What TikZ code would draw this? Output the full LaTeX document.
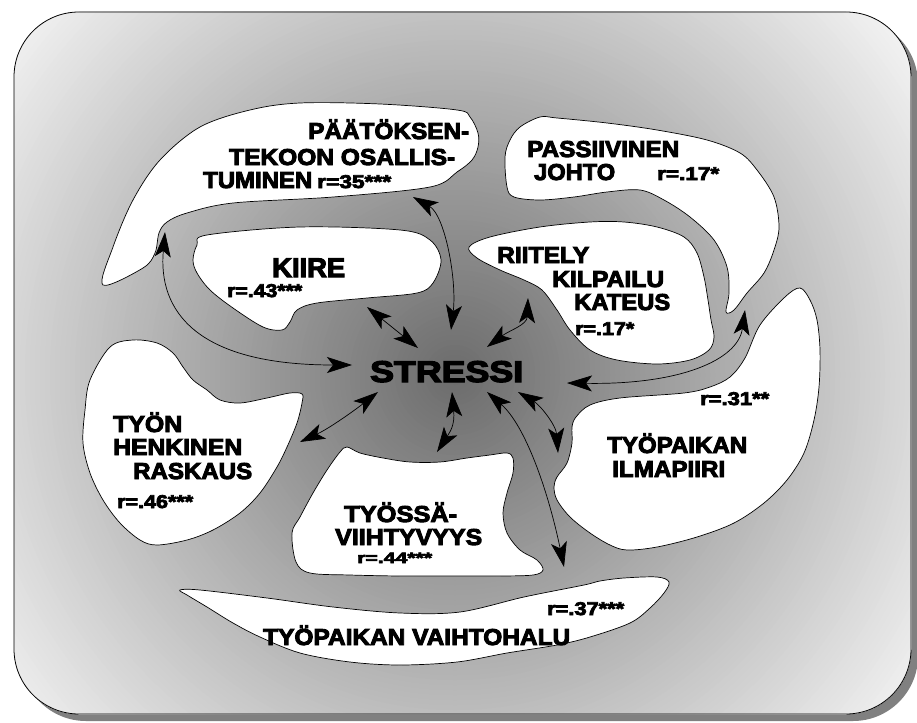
\documentclass[tikz,border=0pt]{standalone}
\usepackage{fontspec}
\usepackage{graphicx}
\usetikzlibrary{arrows.meta}
\newfontfamily\heavy{Liberation Sans Bold}[FakeBold=4]

% set a text line to a given width, keeping its height
\newcommand\fitw[2]{\sbox0{#2}\pgfmathsetmacro\fitratio{#1/\wd0}\scalebox{\fitratio}[1]{\usebox0}}

\definecolor{shadowgray}{gray}{0.5}

\tikzset{
  blob/.style={fill=white, draw=black, line width=0.7pt},
  link/.style={{Stealth[length=25pt,width=16pt,inset=6pt]}-{Stealth[length=25pt,width=16pt,inset=6pt]}, line width=0.7pt},
  lab/.style={anchor=base west, inner sep=0pt, font=\heavy\fontsize{23}{25}\selectfont},
  big/.style={lab, font=\heavy\fontsize{27}{30}\selectfont},
  core/.style={lab, font=\heavy\fontsize{30}{34}\selectfont},
  coef/.style={lab, font=\heavy\fontsize{18.5}{21}\selectfont},
  smallcoef/.style={lab, font=\heavy\fontsize{15}{17}\selectfont},
}

\begin{document}
\begin{tikzpicture}[x=1pt,y=-1pt]
\useasboundingbox (0,0) rectangle (917,722);

% frame with drop shadow and radial glow around the centre
\fill[shadowgray, rounded corners=65pt] (21,19) rectangle (918,721);
\begin{scope}
  \clip[rounded corners=65pt] (14,12) rectangle (911,714);
  \foreach \r in {600,595,...,5} {
    \pgfmathsetmacro\g{0.42+0.565*\r/600}
    \definecolor{ring}{gray}{\g}
    \fill[ring] (455,375) circle (\r pt);
  }
\end{scope}
\draw[line width=0.8pt, rounded corners=65pt] (14,12) rectangle (911,714);

% factor regions
\draw[blob] plot[smooth cycle, tension=0.55] coordinates {
  (103,285) (113,247) (133,200) (160,160) (200,127) (250,110) (300,103)
  (380,104) (457,110) (470,117) (478,133) (478,147) (472,160) (457,172)
  (430,187) (333,197) (233,203) (187,213) (167,222) (159,233) (155,253) (143,268)};
\draw[blob] plot[smooth cycle, tension=0.55] coordinates {
  (207,235) (300,227) (400,230) (430,240) (441,260) (433,283) (417,293)
  (367,298) (317,303) (297,310) (290,322) (282,330) (263,327) (233,308)
  (210,290) (197,273) (193,260) (197,245)};
\draw[blob] plot[smooth cycle, tension=0.55] coordinates {
  (505,157) (507,187) (514,197) (540,200) (574,197) (607,192) (640,190)
  (664,200) (690,217) (714,240) (727,267) (729,293) (726,312) (734,310)
  (747,293) (764,273) (774,250) (779,227) (774,197) (757,170) (740,153)
  (707,140) (657,130) (607,123) (557,118) (540,117) (520,127) (510,140)};
\draw[blob] plot[smooth cycle, tension=0.55] coordinates {
  (469,247) (490,237) (540,227) (590,222) (624,222) (657,227) (684,237)
  (697,253) (704,277) (708,300) (711,320) (714,337) (709,350) (690,360)
  (657,364) (617,360) (590,350) (570,330) (557,310) (542,290) (524,280)
  (500,270) (477,258)};
\draw[blob] plot[smooth cycle, tension=0.55] coordinates {
  (800,288) (810,300) (817,320) (820,350) (819,387) (814,420) (804,453)
  (787,480) (764,503) (734,523) (697,537) (657,547) (627,550) (610,545)
  (590,533) (570,517) (557,500) (554,487) (557,477) (567,463) (572,443)
  (572,427) (576,417) (590,405) (620,398) (684,393) (710,387) (730,377)
  (745,358) (760,325) (785,297)};
\draw[blob] plot[smooth cycle, tension=0.55] coordinates {
  (90,380) (110,347) (133,340) (157,343) (173,353) (183,367) (193,380)
  (207,390) (220,400) (240,403) (267,398) (290,393) (302,394) (302,403)
  (297,423) (287,447) (277,467) (260,493) (240,513) (213,530) (187,540)
  (157,545) (140,540) (120,523) (103,500) (90,473) (83,443) (85,410)};
\draw[blob] plot[smooth cycle, tension=0.55] coordinates {
  (347,447) (360,453) (383,458) (410,462) (440,462) (467,458) (490,455)
  (507,453) (513,458) (513,473) (507,493) (503,513) (507,533) (520,550)
  (537,560) (543,570) (533,575) (500,576) (450,576) (400,576) (350,575)
  (310,573) (296,562) (292,533) (300,517) (313,493) (327,470) (340,452)};
\draw[blob] plot[smooth cycle, tension=0.55] coordinates {
  (180,590) (200,590) (267,598) (333,607) (400,613) (460,612) (524,597)
  (584,585) (600,581) (624,578) (657,577) (669,582) (664,593) (650,608)
  (630,623) (590,637) (557,645) (507,653) (457,662) (400,665) (350,662)
  (300,653) (260,637) (233,623) (207,607) (187,595)};

% arrow end points
\coordinate (osalA) at (413,197);  \coordinate (osalB) at (451,330);
\coordinate (kiireA) at (367,307); \coordinate (kiireB) at (418,348);
\coordinate (tailA) at (165,232);  \coordinate (tailB) at (352,365);
\coordinate (riitA) at (528,298);  \coordinate (riitB) at (487,347);
\coordinate (johtA) at (745,310);  \coordinate (johtB) at (567,383);
\coordinate (raskA) at (378,392);  \coordinate (raskB) at (300,442);
\coordinate (viihA) at (452,392);  \coordinate (viihB) at (437,452);
\coordinate (vaihA) at (487,392);  \coordinate (vaihB) at (564,567);
\coordinate (ilmaA) at (518,392);  \coordinate (ilmaB) at (558,453);

% connections to stress
\draw[link] (osalA) .. controls (445,215) and (457,280) .. (osalB);
\draw[link] (kiireA) -- (kiireB);
\draw[link] (tailA) .. controls (158,310) and (195,365) .. (tailB);
\draw[link] (riitA) .. controls (527,325) and (510,330) .. (riitB);
\draw[link] (johtA) .. controls (738,360) and (680,385) .. (johtB);
\draw[link] (raskA) .. controls (355,410) and (330,428) .. (raskB);
\draw[link] (viihA) .. controls (455,425) and (450,432) .. (viihB);
\draw[link] (vaihA) .. controls (525,425) and (548,490) .. (vaihB);
\draw[link] (ilmaA) .. controls (540,405) and (556,425) .. (ilmaB);

% labels
\node[core] (stress) at (370,382) {\fitw{153pt}{STRESSI}};

\node[lab] (osal1) at (308,139) {\fitw{161pt}{PÄÄTÖKSEN-}};
\node[lab] (osal2) at (229,165) {\fitw{226pt}{TEKOON OSALLIS-}};
\node[lab] (osal3) at (203,188) {\fitw{109pt}{TUMINEN}};
\node[coef] (osalr) at (317,188) {\fitw{74pt}{r=35***}};

\node[big] (kiire) at (272,277) {\fitw{73pt}{KIIRE}};
\node[coef] (kiirer) at (227,297) {\fitw{75pt}{r=.43***}};

\node[lab] (johto1) at (527,157) {\fitw{152pt}{PASSIIVINEN}};
\node[lab] (johto2) at (534,180) {\fitw{81pt}{JOHTO}};
\node[coef] (johtor) at (657,180) {\fitw{62pt}{r=.17*}};

\node[lab] (riit1) at (497,263) {\fitw{92pt}{RIITELY}};
\node[lab] (riit2) at (552,287) {\fitw{112pt}{KILPAILU}};
\node[lab] (riit3) at (574,310) {\fitw{96pt}{KATEUS}};
\node[coef] (riitr) at (575,335) {\fitw{59pt}{r=.17*}};

\node[coef] (ilmar) at (700,405) {\fitw{69pt}{r=.31**}};
\node[lab] (ilma1) at (607,453) {\fitw{140pt}{TYÖPAIKAN}};
\node[lab] (ilma2) at (612,477) {\fitw{113pt}{ILMAPIIRI}};

\node[lab] (rask1) at (113,432) {\fitw{69pt}{TYÖN}};
\node[lab] (rask2) at (113,455) {\fitw{129pt}{HENKINEN}};
\node[lab] (rask3) at (133,479) {\fitw{119pt}{RASKAUS}};
\node[coef] (raskr) at (117,508) {\fitw{76pt}{r=.46***}};

\node[lab] (viih1) at (344,522) {\fitw{113pt}{TYÖSSÄ-}};
\node[lab] (viih2) at (335,545) {\fitw{147pt}{VIIHTYVYYS}};
\node[smallcoef] (viihr) at (357,563) {\fitw{75pt}{r=.44***}};

\node[coef] (vaihr) at (547,615) {\fitw{77pt}{r=.37***}};
\node[lab] (vaih) at (263,645) {\fitw{307pt}{TYÖPAIKAN VAIHTOHALU}};
\end{tikzpicture}
\end{document}
